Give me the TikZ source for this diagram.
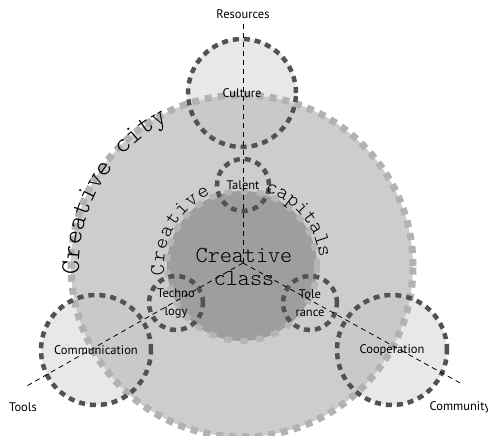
\documentclass[tikz,border=0pt]{standalone}
\usepackage{fontspec}
\newfontfamily\labelfont{PT Sans}
\setmonofont{Latin Modern Mono Light}
\usetikzlibrary{decorations.text}

\definecolor{cityfill}{gray}{0.77}
\definecolor{cityedge}{gray}{0.70}
\definecolor{classfill}{gray}{0.62}
\definecolor{classedge}{gray}{0.71}
\definecolor{outerfill}{gray}{0.91}
\definecolor{ringdark}{gray}{0.32}

\tikzset{
  lbl/.style={font=\labelfont\fontsize{12.5}{18}\selectfont, align=center, inner sep=0pt},
  ring/.style={circle, draw=ringdark, line width=4.5pt, dash pattern=on 6pt off 5pt, inner sep=0pt, lbl},
  guide/.style={black, line width=0.8pt, dash pattern=on 5pt off 4pt},
  arctext/.style={decorate, decoration={text along path, text align={fit to path}, text={#1}}}
}

\begin{document}
\begin{tikzpicture}[x=1pt, y=1pt]
\useasboundingbox (-242,-170) rectangle (246,266);

% light discs behind the city
\foreach \c in {(0,173), (-146,-84), (150,-84)}
    \fill[outerfill] \c circle (55);

% creative city
\fill[cityfill, fill opacity=0.85] (0,0) circle (171);
\draw[cityedge, line width=7pt, dash pattern=on 7pt off 6pt] (0,0) circle (171);

% creative class
\fill[classfill] (0,0) circle (75);
\draw[classedge, line width=6pt, dash pattern=on 7pt off 9pt] (0,0) circle (75);

\node[ring, minimum size=108] (culture) at (0,173) {Culture};
\node[ring, minimum size=110] (communication) at (-146,-84) {Communication};
\node[ring, minimum size=110] (cooperation) at (150,-84) {Cooperation};
\node[ring, minimum size=52] (talent) at (1,81) {Talent};
\node[ring, minimum size=54] (technology) at (-66,-37) {Techno\\logy};
\node[ring, minimum size=54] (tolerance) at (68,-37) {Tole\\rance};

\node[font=\ttfamily\fontsize{23}{23}\selectfont, align=center, inner sep=0pt] (class) at (2,-1) {Creative\\class};

\path[arctext={|\ttfamily\fontsize{27}{27}\selectfont|Creative city}] (183:163) arc[start angle=183, end angle=117, radius=163];
\path[arctext={|\ttfamily\fontsize{21}{21}\selectfont|Creative}] (187:78) arc[start angle=187, end angle=114, radius=78];
\path[arctext={|\ttfamily\fontsize{21}{21}\selectfont|capitals}] (73:78) arc[start angle=73, end angle=6, radius=78];

% axes
\coordinate (hub) at (1,3);
\coordinate (resEnd) at (1,244);
\coordinate (toolsEnd) at (-217,-121);
\coordinate (commEnd) at (220,-118);
\foreach \e in {resEnd, toolsEnd, commEnd}
    \draw[guide] (hub) -- (\e);

\node[lbl] (resources) at (1,252) {Resources};
\node[lbl] (tools) at (-219,-141) {Tools};
\node[lbl] (community) at (218,-141) {Community};

\end{tikzpicture}
\end{document}
